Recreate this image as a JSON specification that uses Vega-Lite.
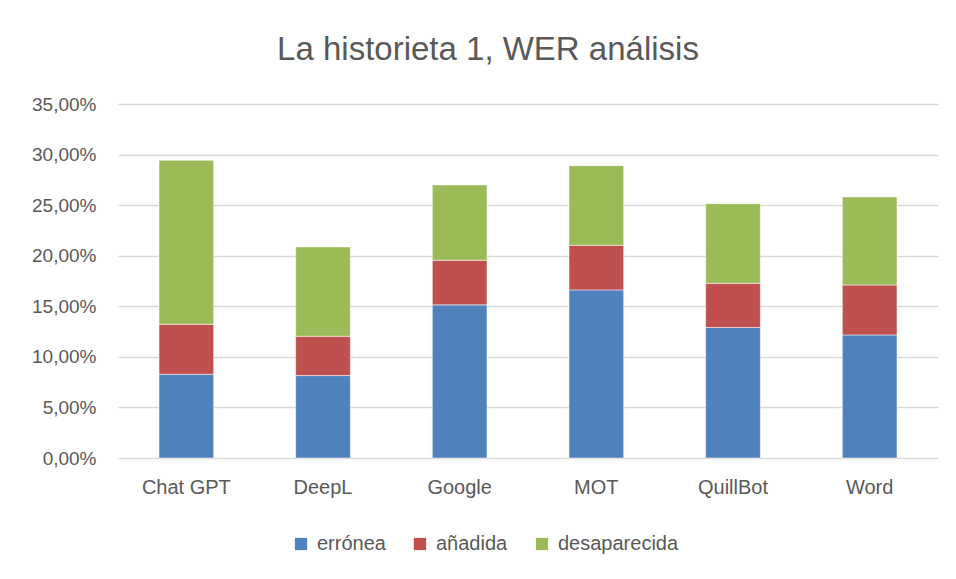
{
  "$schema": "https://vega.github.io/schema/vega-lite/v6.json",
  "width": 820,
  "height": 354,
  "autosize": {"type": "none"},
  "padding": {"left": 118, "top": 104, "right": 18, "bottom": 121},
  "background": "white",
  "title": {
    "text": "La historieta 1, WER análisis",
    "anchor": "middle",
    "frame": "group",
    "dx": -40,
    "offset": 28,
    "fontSize": 33,
    "font": "Liberation Sans",
    "fontWeight": "normal",
    "color": "#595959"
  },
  "data": {
    "values": [
      {"herramienta": "Chat GPT", "tipo": "errónea", "valor": 0.0828},
      {"herramienta": "Chat GPT", "tipo": "añadida", "valor": 0.0494},
      {"herramienta": "Chat GPT", "tipo": "desaparecida", "valor": 0.1621},
      {"herramienta": "DeepL", "tipo": "errónea", "valor": 0.0815},
      {"herramienta": "DeepL", "tipo": "añadida", "valor": 0.0389},
      {"herramienta": "DeepL", "tipo": "desaparecida", "valor": 0.0883},
      {"herramienta": "Google", "tipo": "errónea", "valor": 0.1514},
      {"herramienta": "Google", "tipo": "añadida", "valor": 0.0441},
      {"herramienta": "Google", "tipo": "desaparecida", "valor": 0.0745},
      {"herramienta": "MOT", "tipo": "errónea", "valor": 0.1662},
      {"herramienta": "MOT", "tipo": "añadida", "valor": 0.0441},
      {"herramienta": "MOT", "tipo": "desaparecida", "valor": 0.0787},
      {"herramienta": "QuillBot", "tipo": "errónea", "valor": 0.1290},
      {"herramienta": "QuillBot", "tipo": "añadida", "valor": 0.0437},
      {"herramienta": "QuillBot", "tipo": "desaparecida", "valor": 0.0788},
      {"herramienta": "Word", "tipo": "errónea", "valor": 0.1217},
      {"herramienta": "Word", "tipo": "añadida", "valor": 0.0494},
      {"herramienta": "Word", "tipo": "desaparecida", "valor": 0.0870}
    ]
  },
  "transform": [
    {"calculate": "indexof(['errónea', 'añadida', 'desaparecida'], datum.tipo)", "as": "orden"}
  ],
  "mark": {"type": "bar", "stroke": "white", "strokeWidth": 0.5},
  "encoding": {
    "x": {
      "field": "herramienta",
      "type": "nominal",
      "sort": null,
      "scale": {"paddingInner": 0.6, "paddingOuter": 0.3},
      "axis": {
        "title": null,
        "labelAngle": 0,
        "ticks": false,
        "domain": false,
        "labelPadding": 19,
        "labelFontSize": 20,
        "labelFont": "Liberation Sans",
        "labelColor": "#595959"
      }
    },
    "y": {
      "field": "valor",
      "type": "quantitative",
      "stack": "zero",
      "scale": {"domain": [0, 0.35]},
      "axis": {
        "title": null,
        "format": ".2%",
        "values": [0, 0.05, 0.1, 0.15, 0.2, 0.25, 0.3, 0.35],
        "ticks": false,
        "domain": false,
        "labelPadding": 22,
        "labelFontSize": 19,
        "labelFont": "Liberation Sans",
        "labelColor": "#595959",
        "gridColor": "#D9D9D9",
        "gridWidth": 1.5
      }
    },
    "order": {"field": "orden", "type": "quantitative", "sort": "ascending"},
    "color": {
      "field": "tipo",
      "type": "nominal",
      "sort": ["errónea", "añadida", "desaparecida"],
      "scale": {
        "domain": ["errónea", "añadida", "desaparecida"],
        "range": ["#4F81BD", "#C0504D", "#9BBB59"]
      },
      "legend": {
        "title": null,
        "orient": "none",
        "legendX": 173,
        "legendY": 430,
        "direction": "horizontal",
        "symbolType": "square",
        "symbolSize": 150,
        "symbolStrokeWidth": 0,
        "labelFontSize": 20,
        "labelFont": "Liberation Sans",
        "labelColor": "#595959",
        "columnPadding": 24,
        "labelOffset": 6
      }
    }
  },
  "config": {
    "view": {"stroke": null},
    "locale": {
      "number": {
        "decimal": ",",
        "thousands": ".",
        "grouping": [3],
        "currency": ["", " €"]
      }
    }
  }
}
